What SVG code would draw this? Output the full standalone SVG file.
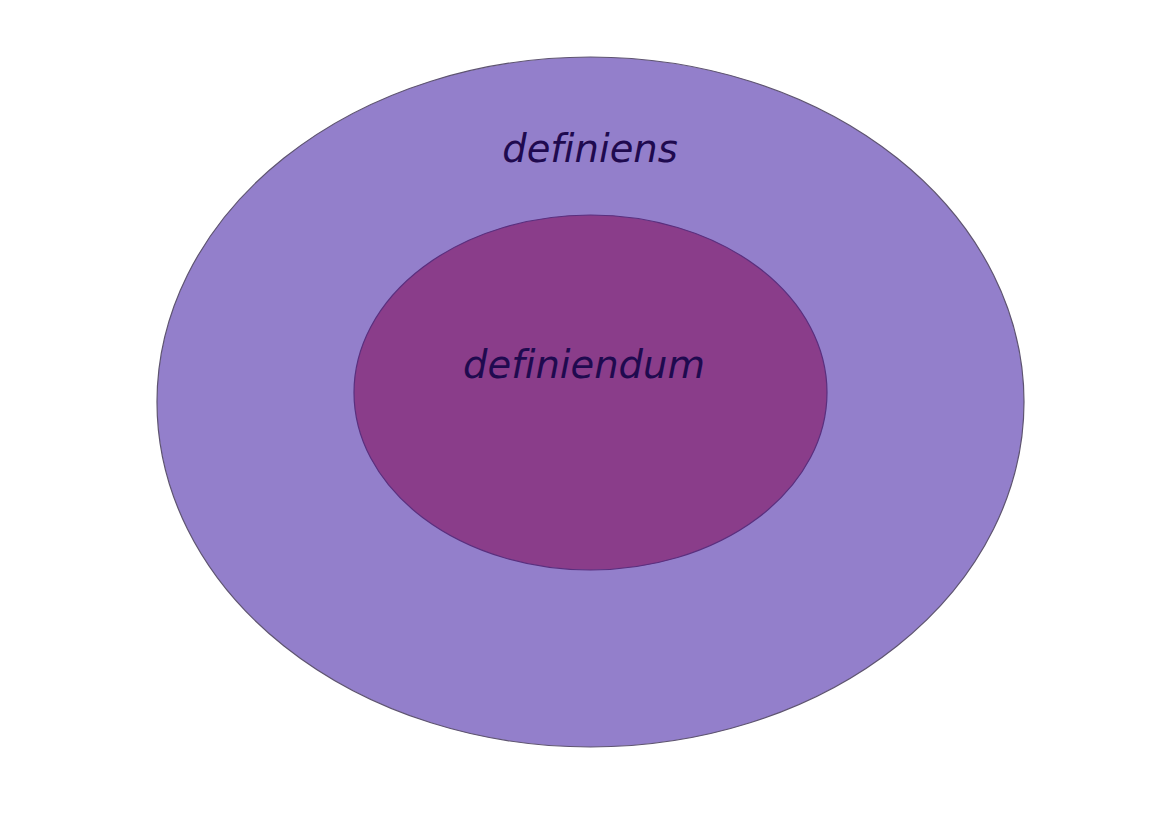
<svg xmlns="http://www.w3.org/2000/svg" width="1169" height="826" viewBox="0 0 1169 826">
<style>
.lbl{font-family:"DejaVu Sans","Noto Sans",sans-serif;font-style:italic;font-size:38.5px;fill:#1f0a4f;text-anchor:middle;font-variant-ligatures:none;font-feature-settings:"liga" 0}
</style>
<rect width="1169" height="826" fill="#ffffff"/>
<g id="definiens">
<ellipse cx="590.5" cy="402" rx="433.5" ry="345" fill="#937fcb" stroke="#5e5470" stroke-width="1.2"/>
<text class="lbl" x="590" y="162">definiens</text>
</g>
<g id="definiendum">
<ellipse cx="590.5" cy="392.5" rx="236.5" ry="177.5" fill="#8a3d8a" stroke="#5a2f7e" stroke-width="1.2"/>
<text class="lbl" x="584" y="378">definiendum</text>
</g>
<g id="connectors"/>
</svg>
